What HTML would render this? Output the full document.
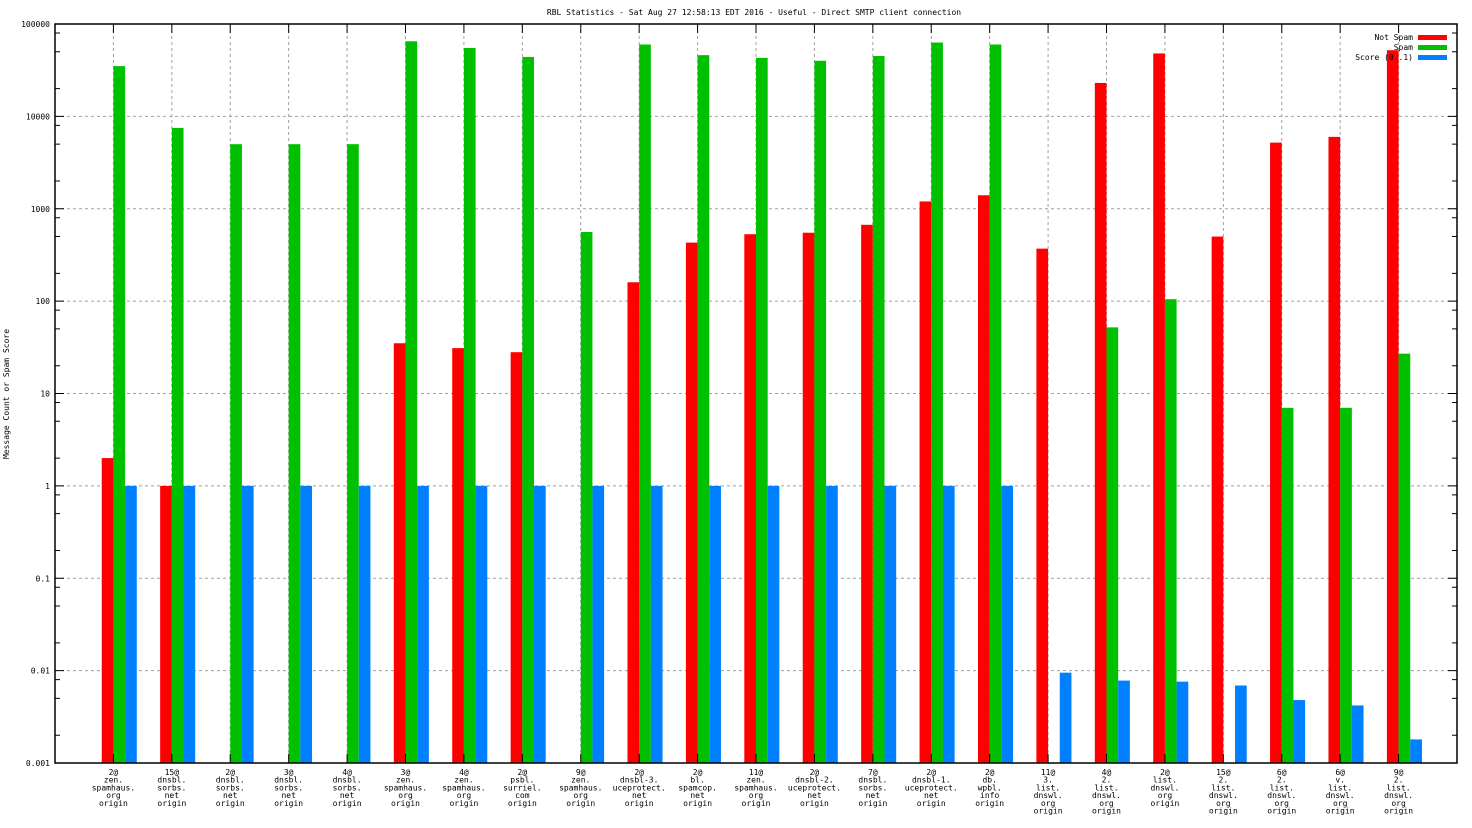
<!DOCTYPE html>
<html><head><meta charset="utf-8"><style>
body{margin:0;background:#fff}
svg{display:block;font-family:"DejaVu Sans Mono","Liberation Mono",monospace}
text{font-size:8px;fill:#000}
</style></head><body>
<svg id="chart" width="1472" height="828" xmlns="http://www.w3.org/2000/svg">
<text x="754" y="15" text-anchor="middle">RBL Statistics - Sat Aug 27 12:58:13 EDT 2016 - Useful - Direct SMTP client connection</text>
<text transform="translate(9,394) rotate(-90)" text-anchor="middle">Message Count or Spam Score</text>
<g id="grid"></g><g id="bars"></g><g id="axes"></g><g id="legend"></g>
</svg>
<script>
const categories=[["2@","zen.","spamhaus.","org","origin"],["15@","dnsbl.","sorbs.","net","origin"],["2@","dnsbl.","sorbs.","net","origin"],["3@","dnsbl.","sorbs.","net","origin"],["4@","dnsbl.","sorbs.","net","origin"],["3@","zen.","spamhaus.","org","origin"],["4@","zen.","spamhaus.","org","origin"],["2@","psbl.","surriel.","com","origin"],["9@","zen.","spamhaus.","org","origin"],["2@","dnsbl-3.","uceprotect.","net","origin"],["2@","bl.","spamcop.","net","origin"],["11@","zen.","spamhaus.","org","origin"],["2@","dnsbl-2.","uceprotect.","net","origin"],["7@","dnsbl.","sorbs.","net","origin"],["2@","dnsbl-1.","uceprotect.","net","origin"],["2@","db.","wpbl.","info","origin"],["11@","3.","list.","dnswl.","org","origin"],["4@","2.","list.","dnswl.","org","origin"],["2@","list.","dnswl.","org","origin"],["15@","2.","list.","dnswl.","org","origin"],["6@","2.","list.","dnswl.","org","origin"],["6@","v.","list.","dnswl.","org","origin"],["9@","2.","list.","dnswl.","org","origin"]];
const notSpam=[2,1,0,0,0,35,31,28,0,160,430,530,550,670,1200,1400,370,23000,48000,500,5200,6000,52000];
const spam=[35000,7500,5000,5000,5000,65000,55000,44000,560,60000,46000,43000,40000,45000,63000,60000,0,52,105,0,7,7,27];
const score=[1,1,1,1,1,1,1,1,1,1,1,1,1,1,1,1,0.0095,0.0078,0.0076,0.0069,0.0048,0.0042,0.0018];
const yTicks=["0.001","0.01","0.1","1","10","100","1000","10000","100000"];
const L=55,R=1457,T=24,B=763,NS="http://www.w3.org/2000/svg";
const unit=(R-L)/24;
const xc=i=>L+(i+1)*unit;
const y=v=>B-(Math.log10(v)+3)*(B-T)/8;
function mk(tag,a,p){const e=document.createElementNS(NS,tag);for(const k in a)e.setAttribute(k,a[k]);p.appendChild(e);return e;}
const grid=document.getElementById('grid'),bars=document.getElementById('bars'),axes=document.getElementById('axes'),lg=document.getElementById('legend');
yTicks.forEach((t,k)=>{const yy=y(+t);
 if(k>0&&k<8){const g=mk('line',{x1:L,x2:R,y1:yy,y2:yy,stroke:'#a0a0a0','stroke-dasharray':'3,3','stroke-width':1},grid);
 
 }
 const tx=mk('text',{x:L-5,y:yy+3,'text-anchor':'end'},axes);tx.textContent=t;
 
 
 mk('path',{d:`M${L},${yy}h9M${R},${yy}h-9`,stroke:'#000'},axes);
 if(k<8)[2,5,8].forEach(m=>{const ym=y(+t*m);mk('path',{d:`M${L},${ym}h5M${R},${ym}h-5`,stroke:'#000'},axes);});
});
categories.forEach((c,i)=>{const x=xc(i);
 const g=mk('line',{x1:x,x2:x,y1:T,y2:B,stroke:'#a0a0a0','stroke-dasharray':'3,3'},grid);
 
 
 mk('path',{d:`M${x},${B}v-9M${x},${T}v9`,stroke:'#000'},axes);
 const tx=mk('text',{x:x,y:B+12,'text-anchor':'middle'},axes);
 
 
 c.forEach((s,j)=>{const ts=mk('tspan',{x:x,dy:j?7.7:0},tx);ts.textContent=s;});
});
// legend
[["Not Spam","#ff0000"],["Spam","#00c000"],["Score (0..1)","#0080ff"]].forEach((l,k)=>{const yy=37+k*10;
 const t=mk('text',{x:1413,y:yy+3,'text-anchor':'end'},lg);t.textContent=l[0];
 
 
 mk('rect',{x:1418,y:yy-2,width:29,height:5,fill:l[1]},lg);
});
const bw=unit/5;
[[notSpam,'#ff0000',-1,'bar-not-spam'],[spam,'#00c000',0,'bar-spam'],[score,'#0080ff',1,'bar-score']].forEach(s=>{
 s[0].forEach((v,i)=>{if(v<=0)return;const x0=xc(i)+s[2]*bw-(s[2]<0?0:0);
  const r=mk('rect',{x:s[2]<0?xc(i)-bw:xc(i)+s[2]*bw,y:y(v),width:bw,height:B-y(v),fill:s[1]},bars);
  
  
 });
});
mk('rect',{x:L,y:T,width:R-L,height:B-T,fill:'none',stroke:'#000','stroke-width':1.5},axes);
document.getElementById('chart').appendChild(lg);
</script>
</body></html>
